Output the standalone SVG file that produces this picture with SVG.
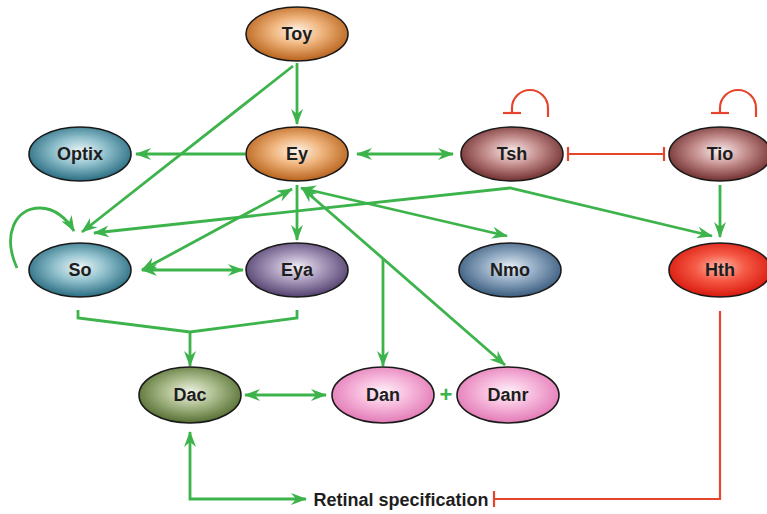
<svg xmlns="http://www.w3.org/2000/svg" width="767" height="514" viewBox="0 0 767 514">
<style>
.n ellipse{stroke:#1a1a1a;stroke-width:1.6}
.n text{font-family:"Liberation Sans",Arial,sans-serif;font-weight:bold;font-size:18px;fill:#1e1e1e;text-anchor:middle}
.g{fill:none;stroke:#3db34b;stroke-width:2.8}
.r{fill:none;stroke:#e5452c;stroke-width:2.2}
.lbl{font-family:"Liberation Sans",Arial,sans-serif;font-weight:bold;font-size:18px;fill:#1e1e1e}
</style>
<defs>
<marker id="ah" viewBox="0 0 16 12" refX="15" refY="6" markerWidth="16" markerHeight="12" orient="auto-start-reverse" markerUnits="userSpaceOnUse"><path d="M0,0 L16,6 L0,12 L5,6 z" fill="#3db34b"/></marker>
<radialGradient id="gOr" cx="50%" cy="45%" r="55%"><stop offset="0" stop-color="#fef5ec"/><stop offset="0.45" stop-color="#efb47c"/><stop offset="1" stop-color="#b8631c"/></radialGradient>
<radialGradient id="gTe" cx="50%" cy="45%" r="55%"><stop offset="0" stop-color="#eef6f8"/><stop offset="0.45" stop-color="#93c2ce"/><stop offset="1" stop-color="#2a6d82"/></radialGradient>
<radialGradient id="gMa" cx="50%" cy="45%" r="55%"><stop offset="0" stop-color="#f9eeee"/><stop offset="0.45" stop-color="#c89292"/><stop offset="1" stop-color="#723030"/></radialGradient>
<radialGradient id="gPu" cx="50%" cy="45%" r="55%"><stop offset="0" stop-color="#f2eef5"/><stop offset="0.45" stop-color="#ab9cbe"/><stop offset="1" stop-color="#54426f"/></radialGradient>
<radialGradient id="gBl" cx="50%" cy="45%" r="55%"><stop offset="0" stop-color="#eaf0f6"/><stop offset="0.45" stop-color="#95adc5"/><stop offset="1" stop-color="#3a5c7e"/></radialGradient>
<radialGradient id="gRe" cx="50%" cy="45%" r="55%"><stop offset="0" stop-color="#ffb8ab"/><stop offset="0.45" stop-color="#f65a46"/><stop offset="1" stop-color="#d8190f"/></radialGradient>
<radialGradient id="gOl" cx="50%" cy="45%" r="55%"><stop offset="0" stop-color="#f1f4e8"/><stop offset="0.45" stop-color="#acbd8e"/><stop offset="1" stop-color="#566f33"/></radialGradient>
<radialGradient id="gPk" cx="50%" cy="45%" r="55%"><stop offset="0" stop-color="#fff3f9"/><stop offset="0.45" stop-color="#f7bbdd"/><stop offset="1" stop-color="#e27ab6"/></radialGradient>
</defs>
<g id="connectors">
<line class="g" x1="297" y1="63" x2="297" y2="124" marker-end="url(#ah)"/>
<line class="g" x1="293" y1="66" x2="82" y2="232" marker-end="url(#ah)"/>
<line class="g" x1="245" y1="154" x2="136" y2="154" marker-end="url(#ah)"/>
<line class="g" x1="357" y1="154" x2="453" y2="154" marker-start="url(#ah)" marker-end="url(#ah)"/>
<polyline class="g" points="94,233 510,188 712,236" marker-start="url(#ah)" marker-end="url(#ah)"/>
<line class="g" x1="720" y1="185" x2="720" y2="237" marker-end="url(#ah)"/>
<line class="g" x1="142" y1="270" x2="292" y2="189" marker-start="url(#ah)" marker-end="url(#ah)"/>
<line class="g" x1="142" y1="270" x2="243" y2="270" marker-start="url(#ah)" marker-end="url(#ah)"/>
<line class="g" x1="297" y1="185" x2="297" y2="240" marker-end="url(#ah)"/>
<line class="g" x1="301" y1="188" x2="507" y2="236" marker-start="url(#ah)" marker-end="url(#ah)"/>
<line class="g" x1="302" y1="188" x2="505" y2="365" marker-start="url(#ah)" marker-end="url(#ah)"/>
<line class="g" x1="383" y1="259" x2="383" y2="366" marker-end="url(#ah)"/>
<polyline class="g" points="78,310 78,318 190,332 297,318 297,310"/>
<line class="g" x1="190" y1="332" x2="190" y2="366" marker-end="url(#ah)"/>
<line class="g" x1="245" y1="395" x2="326" y2="395" marker-start="url(#ah)" marker-end="url(#ah)"/>
<path class="g" d="M17,268 C2,235 15,208 40,208 C55,208 67,219 74,231" marker-end="url(#ah)"/>
<polyline class="g" points="190,432 190,499 306,499" marker-start="url(#ah)" marker-end="url(#ah)"/>
<line class="r" x1="568" y1="154" x2="664" y2="154"/>
<line class="r" x1="568" y1="147" x2="568" y2="161"/>
<line class="r" x1="664" y1="147" x2="664" y2="161"/>
<path class="r" d="M548,117 L548,108 A18,18 0 0 0 512,108 L512,113"/>
<line class="r" x1="503" y1="113" x2="521" y2="113"/>
<path class="r" d="M756,117 L756,108 A18,18 0 0 0 720,108 L720,113"/>
<line class="r" x1="711" y1="113" x2="729" y2="113"/>
<polyline class="r" points="720,311 720,499 494,499"/>
<line class="r" x1="494" y1="491" x2="494" y2="507"/>
</g>
<g id="Toy" class="n"><ellipse cx="297" cy="34" rx="51" ry="27" fill="url(#gOr)"/><text x="297" y="40">Toy</text></g>
<g id="Ey" class="n"><ellipse cx="297" cy="154" rx="51" ry="27" fill="url(#gOr)"/><text x="297" y="160">Ey</text></g>
<g id="Optix" class="n"><ellipse cx="80" cy="154" rx="51" ry="27" fill="url(#gTe)"/><text x="80" y="160">Optix</text></g>
<g id="Tsh" class="n"><ellipse cx="512" cy="154" rx="51" ry="27" fill="url(#gMa)"/><text x="512" y="160">Tsh</text></g>
<g id="Tio" class="n"><ellipse cx="720" cy="154" rx="51" ry="27" fill="url(#gMa)"/><text x="720" y="160">Tio</text></g>
<g id="So" class="n"><ellipse cx="80" cy="270" rx="51" ry="27" fill="url(#gTe)"/><text x="80" y="276">So</text></g>
<g id="Eya" class="n"><ellipse cx="297" cy="270" rx="51" ry="27" fill="url(#gPu)"/><text x="297" y="276">Eya</text></g>
<g id="Nmo" class="n"><ellipse cx="510" cy="270" rx="51" ry="27" fill="url(#gBl)"/><text x="510" y="276">Nmo</text></g>
<g id="Hth" class="n"><ellipse cx="720" cy="270" rx="51" ry="27" fill="url(#gRe)"/><text x="720" y="276">Hth</text></g>
<g id="Dac" class="n"><ellipse cx="190" cy="395" rx="51" ry="28" fill="url(#gOl)"/><text x="190" y="401">Dac</text></g>
<g id="Dan" class="n"><ellipse cx="383" cy="395" rx="51" ry="28" fill="url(#gPk)"/><text x="383" y="401">Dan</text></g>
<g id="Danr" class="n"><ellipse cx="508" cy="395" rx="51" ry="28" fill="url(#gPk)"/><text x="508" y="401">Danr</text></g>
<text x="446" y="402" font-family="Liberation Sans,Arial,sans-serif" font-weight="bold" font-size="22" fill="#3db34b" text-anchor="middle">+</text>
<text class="lbl" x="401" y="506" text-anchor="middle">Retinal specification</text>
</svg>
